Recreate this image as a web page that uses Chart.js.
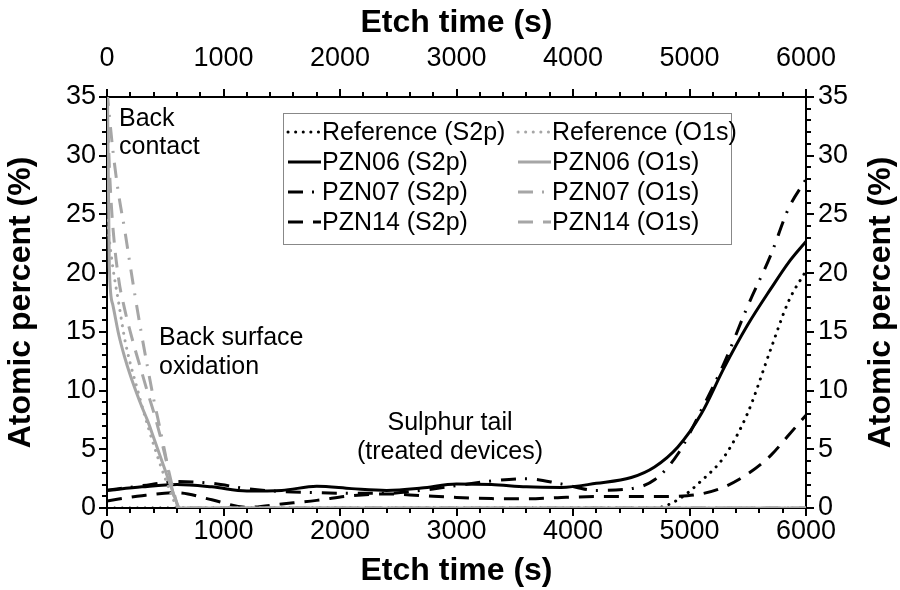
<!DOCTYPE html>
<html>
<head>
<meta charset="utf-8">
<script src="https://cdn.jsdelivr.net/npm/chart.js@4.4.0/dist/chart.umd.min.js"></script>
<style>
	html, body { margin: 0; padding: 0; background: #fff; }
	#wrap { width: 900px; height: 590px; }
</style>
</head>
<body>
<div id="wrap"><canvas id="myChart" width="900" height="590"></canvas></div>
<script>
// DATA
// S2p series share one etch time grid (s)
const s2pTime = [0, 300, 600, 900, 1200, 1500, 1800, 2100, 2400, 2700, 3000, 3300, 3600, 3900, 4200, 4500, 4700, 4900, 5100, 5300, 5500, 5700, 5850, 6000];
const refS2p   = [0, 0, 0, 0, 0, 0, 0, 0, 0, 0, 0, 0, 0, 0, 0, 0, 0, 0.7, 2.3, 4.4, 8.1, 13.6, 17.6, 20.2];
const pzn06S2p = [1.5, 1.8, 2.0, 1.8, 1.45, 1.5, 1.85, 1.65, 1.5, 1.7, 2.05, 2.0, 1.8, 1.75, 2.1, 2.6, 3.5, 5.2, 8.0, 12.0, 15.6, 18.7, 20.9, 22.7];
const pzn07S2p = [1.5, 1.9, 2.25, 2.1, 1.65, 1.4, 1.3, 1.25, 1.25, 1.5, 1.9, 2.3, 2.5, 2.05, 1.5, 1.65, 2.4, 4.6, 8.3, 12.4, 17.2, 21.6, 25.5, 28.0];
const pzn14S2p = [0.6, 1.05, 1.3, 0.7, 0.05, 0.35, 0.65, 1.05, 1.2, 1.05, 0.9, 0.8, 0.78, 0.9, 0.97, 0.97, 0.97, 1.0, 1.2, 1.8, 2.9, 4.5, 6.2, 7.9];

// O1s series, sampled densely near the back contact
const refO1sTime = [0, 50, 100, 150, 200, 250, 300, 350, 400, 450, 500, 550, 600, 620, 6000];
const refO1s     = [24.5, 20.5, 17.5, 14.5, 12.3, 10.5, 8.7, 7.0, 5.4, 3.9, 2.5, 1.2, 0.1, 0, 0];
const pzn06O1sTime = [0, 20, 50, 100, 150, 200, 250, 300, 350, 400, 450, 500, 550, 600, 620, 6000];
const pzn06O1s     = [40, 20.5, 17.3, 14.8, 12.9, 11.3, 9.9, 8.6, 7.4, 6.0, 4.6, 3.2, 1.8, 0.4, 0, 0];
const pzn07O1sTime = [0, 50, 100, 150, 200, 250, 300, 350, 400, 450, 500, 550, 600, 620, 6000];
const pzn07O1s     = [35.5, 30.5, 26.7, 23.8, 20.6, 17.5, 14.6, 11.9, 9.3, 7.0, 4.6, 2.0, 0.2, 0, 0];
const pzn14O1sTime = [0, 25, 50, 100, 150, 200, 250, 300, 350, 400, 450, 500, 550, 600, 620, 6000];
const pzn14O1s     = [34.5, 28, 24, 19.5, 17.0, 15.0, 13.2, 11.5, 9.8, 8.2, 6.4, 4.4, 2.3, 0.4, 0, 0];

const xTicks = [0, 1000, 2000, 3000, 4000, 5000, 6000];
const yTicks = [0, 5, 10, 15, 20, 25, 30, 35];
const xMinorStep = 200;
const yMinorStep = 1;

const labels = ["Reference (S2p)", "Reference (O1s)", "PZN06 (S2p)", "PZN06 (O1s)", "PZN07 (S2p)", "PZN07 (O1s)", "PZN14 (S2p)", "PZN14 (O1s)"];
// END DATA

const BLACK = "#000000";
const GREY = "#a6a6a6";
const FONT = "'Liberation Sans', Arial, sans-serif";

const pts = (xs, ys) => xs.map((x, i) => ({ x: x, y: ys[i] }));

function lineSet(label, data, color, dash, cap, order) {
	return {
		label: label,
		data: data,
		borderColor: color,
		borderWidth: 3,
		borderDash: dash,
		borderCapStyle: cap,
		pointRadius: 0,
		fill: false,
		cubicInterpolationMode: "monotone",
		order: order,
	};
}

const DOT = [0.1, 7.5];
const DASH = [15, 10];
const DASHDOT = [15, 9, 2, 10];

const datasets = [
	lineSet(labels[0], pts(s2pTime, refS2p), BLACK, DOT, "round", 1),
	lineSet(labels[1], pts(refO1sTime, refO1s), GREY, DOT, "round", 0),
	lineSet(labels[2], pts(s2pTime, pzn06S2p), BLACK, [], "butt", 1),
	lineSet(labels[3], pts(pzn06O1sTime, pzn06O1s), GREY, [], "butt", 0),
	lineSet(labels[4], pts(s2pTime, pzn07S2p), BLACK, DASHDOT, "butt", 1),
	lineSet(labels[5], pts(pzn07O1sTime, pzn07O1s), GREY, DASHDOT, "butt", 0),
	lineSet(labels[6], pts(s2pTime, pzn14S2p), BLACK, DASH, "butt", 1),
	lineSet(labels[7], pts(pzn14O1sTime, pzn14O1s), GREY, DASH, "butt", 0),
];

// outward tick marks, major + minor, on all four sides
const tickMarks = {
	id: "tickMarks",
	afterDraw(chart) {
		const ctx = chart.ctx;
		const { left, right, top, bottom } = chart.chartArea;
		const xs = chart.scales.x;
		const ys = chart.scales.y;
		ctx.save();
		ctx.strokeStyle = BLACK;
		ctx.lineWidth = 2;
		ctx.beginPath();
		for (let v = xs.min; v <= xs.max; v += xMinorStep) {
			const px = Math.round(xs.getPixelForValue(v));
			const len = xTicks.includes(v) ? 8 : 5;
			ctx.moveTo(px, bottom);
			ctx.lineTo(px, bottom + len);
			ctx.moveTo(px, top);
			ctx.lineTo(px, top - len);
		}
		for (let v = ys.min; v <= ys.max; v += yMinorStep) {
			const py = Math.round(ys.getPixelForValue(v));
			const len = yTicks.includes(v) ? 8 : 5;
			ctx.moveTo(left, py);
			ctx.lineTo(left - len, py);
			ctx.moveTo(right, py);
			ctx.lineTo(right + len, py);
		}
		ctx.stroke();
		ctx.restore();
	},
};

// boxed two-column legend inside the plot
const boxLegend = {
	id: "boxLegend",
	afterDraw(chart) {
		const ctx = chart.ctx;
		const box = { x: 283, y: 113, w: 448, h: 131 };
		const cols = [287, 517];
		const sampleLen = 34;
		const rowY = [132, 162, 192, 222];
		ctx.save();
		ctx.fillStyle = "#ffffff";
		ctx.fillRect(box.x, box.y, box.w, box.h);
		ctx.strokeStyle = "#888888";
		ctx.lineWidth = 1;
		ctx.strokeRect(box.x + 0.5, box.y + 0.5, box.w, box.h);
		ctx.font = "25px " + FONT;
		ctx.textBaseline = "middle";
		ctx.textAlign = "left";
		chart.data.datasets.forEach((ds, i) => {
			const cx = cols[i % 2];
			const cy = rowY[Math.floor(i / 2)];
			ctx.strokeStyle = ds.borderColor;
			ctx.lineWidth = ds.borderWidth;
			ctx.lineCap = ds.borderCapStyle;
			ctx.setLineDash(ds.borderDash);
			ctx.beginPath();
			ctx.moveTo(cx + 1, cy);
			ctx.lineTo(cx + sampleLen, cy);
			ctx.stroke();
			ctx.setLineDash([]);
			ctx.fillStyle = "#000";
			ctx.fillText(ds.label, cx + sampleLen + 1, cy + 1);
		});
		ctx.restore();
	},
};

// annotations and right-hand axis title
const notes = {
	id: "notes",
	afterDraw(chart) {
		const ctx = chart.ctx;
		const { top, bottom } = chart.chartArea;
		ctx.save();
		ctx.fillStyle = "#000";
		ctx.font = "25px " + FONT;
		ctx.textBaseline = "middle";
		ctx.textAlign = "left";
		ctx.fillText("Back", 119, 119);
		ctx.fillText("contact", 119, 147);
		ctx.fillText("Back surface", 159, 338);
		ctx.fillText("oxidation", 159, 367);
		ctx.textAlign = "center";
		ctx.fillText("Sulphur tail", 450, 423);
		ctx.fillText("(treated devices)", 450, 452);

		ctx.font = "bold 32px " + FONT;
		ctx.translate(881, (top + bottom) / 2);
		ctx.rotate(-Math.PI / 2);
		ctx.fillText("Atomic percent (%)", 0, 0);
		ctx.restore();
	},
};

const tickFont = { family: FONT, size: 27 };
const titleFont = { family: FONT, size: 32, weight: "bold" };

function xAxis(pos, h, pad, showTitle) {
	return {
		type: "linear",
		position: pos,
		min: xTicks[0],
		max: xTicks[xTicks.length - 1],
		afterBuildTicks: (s) => { s.ticks = xTicks.map((v) => ({ value: v })); },
		afterFit: (s) => { s.height = h; },
		grid: { display: false, drawTicks: false },
		border: { display: true, color: BLACK, width: 2 },
		ticks: {
			color: BLACK, font: tickFont, padding: pad, maxRotation: 0, autoSkip: false,
			callback: (v) => String(v),
		},
		title: {
			display: showTitle,
			text: "Etch time (s)",
			color: BLACK,
			font: titleFont,
			padding: pos === "top" ? { top: 4, bottom: 0 } : { top: 0, bottom: 0 },
		},
	};
}

function yAxis(pos, w, pad, showTitle) {
	return {
		type: "linear",
		position: pos,
		min: yTicks[0],
		max: yTicks[yTicks.length - 1],
		afterBuildTicks: (s) => { s.ticks = yTicks.map((v) => ({ value: v })); },
		afterFit: (s) => { s.width = w; },
		grid: { display: false, drawTicks: false },
		border: { display: true, color: BLACK, width: 2 },
		ticks: { color: BLACK, font: tickFont, padding: pad, autoSkip: false, callback: (v) => String(v) },
		title: {
			display: showTitle,
			text: "Atomic percent (%)",
			color: BLACK,
			font: titleFont,
			padding: { top: 2, bottom: 0 },
		},
	};
}

const ctx = document.getElementById("myChart");

new Chart(ctx, {
	type: "line",
	data: { datasets: datasets },
	options: {
		responsive: false,
		animation: false,
		layout: { padding: 0 },
		plugins: {
			legend: { display: false },
			tooltip: { enabled: false },
		},
		scales: {
			x: xAxis("bottom", 82, 7, true),
			x2: xAxis("top", 97, 22, true),
			y: yAxis("left", 107, 11, true),
			y2: yAxis("right", 94, 12, false),
		},
	},
	plugins: [tickMarks, boxLegend, notes],
});
</script>
</body>
</html>
